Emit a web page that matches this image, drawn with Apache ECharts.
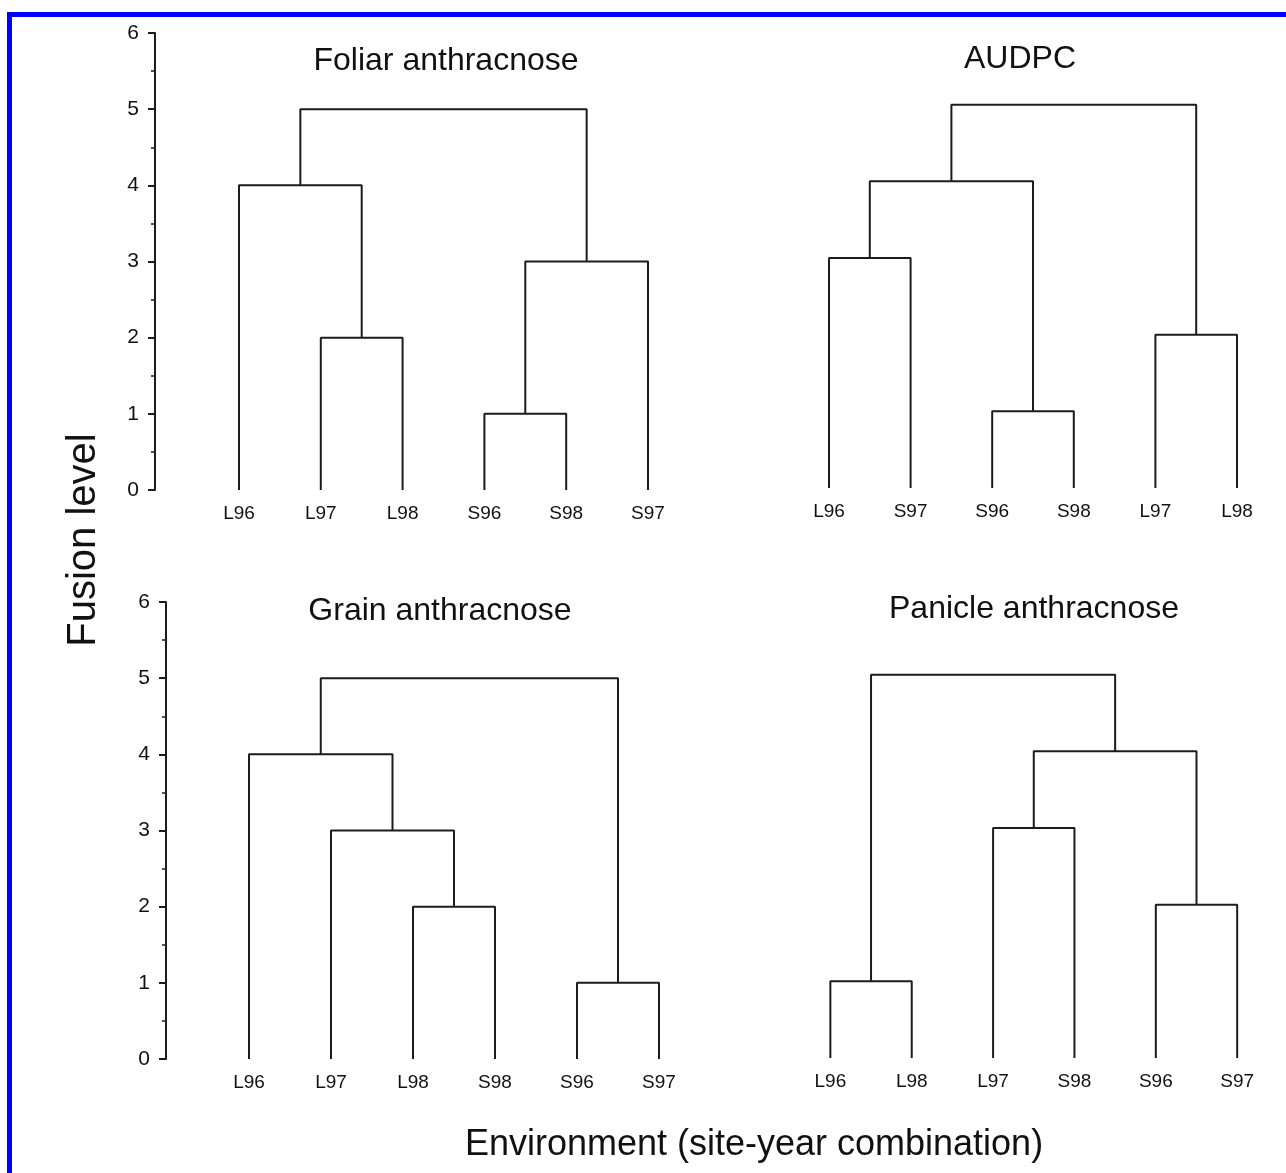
<!DOCTYPE html>
<html>
<head>
<meta charset="utf-8">
<script src="https://cdn.jsdelivr.net/npm/echarts@6/dist/echarts.min.js"></script>
<style>
html,body{margin:0;padding:0;background:#fff;}
#chart{width:1286px;height:1173px;}
</style>
</head>
<body>
<div id="chart"></div>
<script>
// ---------- DATA ----------
const panelTitles = ['Foliar anthracnose', 'AUDPC', 'Grain anthracnose', 'Panicle anthracnose'];

const foliarLeaves = ['L96', 'L97', 'L98', 'S96', 'S98', 'S97'];
const foliarMerges = [['L97', 'L98', 2], ['S96', 'S98', 1], ['L96', '#0', 4], ['#1', 'S97', 3], ['#2', '#3', 5]];

const audpcLeaves = ['L96', 'S97', 'S96', 'S98', 'L97', 'L98'];
const audpcMerges = [['L96', 'S97', 3], ['S96', 'S98', 1], ['#0', '#1', 4], ['L97', 'L98', 2], ['#2', '#3', 5]];

const grainLeaves = ['L96', 'L97', 'L98', 'S98', 'S96', 'S97'];
const grainMerges = [['L98', 'S98', 2], ['L97', '#0', 3], ['L96', '#1', 4], ['S96', 'S97', 1], ['#2', '#3', 5]];

const panicleLeaves = ['L96', 'L98', 'L97', 'S98', 'S96', 'S97'];
const panicleMerges = [['L96', 'L98', 1], ['L97', 'S98', 3], ['S96', 'S97', 2], ['#1', '#2', 4], ['#0', '#3', 5]];

const yTicks = [0, 1, 2, 3, 4, 5, 6];
const yAxisName = 'Fusion level';
const xAxisName = 'Environment (site-year combination)';

// ---------- LAYOUT ----------
const FONT = '"Liberation Sans", Arial, Helvetica, sans-serif';
const INK = '#1c1c1c';
const layout = [
  { left: 155, leaf0: 239, step: 81.8, top: 33, zero: 490, showY: true, tx: 446, ty: 61 },
  { left: 747, leaf0: 829, step: 81.6, top: 28, zero: 488, showY: false, tx: 1020, ty: 59 },
  { left: 166, leaf0: 249, step: 82.0, top: 602, zero: 1059, showY: true, tx: 440, ty: 611 },
  { left: 749, leaf0: 831, step: 82.0, top: 598, zero: 1058, showY: false, tx: 1034, ty: 609 }
];
const panelData = [
  [foliarLeaves, foliarMerges],
  [audpcLeaves, audpcMerges],
  [grainLeaves, grainMerges],
  [panicleLeaves, panicleMerges]
];

const grids = [], xAxes = [], yAxes = [], series = [], graphics = [];

panelData.forEach(([leaves, merges], p) => {
  const L = layout[p];
  const xMin = -(L.leaf0 - L.left) / L.step;
  const xMax = 5.6;
  grids.push({ left: L.left, top: L.top, width: (xMax - xMin) * L.step, height: L.zero - L.top, containLabel: false });
  xAxes.push({
    type: 'value', gridIndex: p, min: xMin, max: xMax,
    axisLine: { show: false, onZero: false }, axisTick: { show: false }, splitLine: { show: false },
    axisLabel: {
      customValues: leaves.map((_, i) => i),
      formatter: v => leaves[Math.round(v)] || '',
      fontFamily: FONT, fontSize: 19, color: '#111', margin: 14
    }
  });
  yAxes.push({
    type: 'value', gridIndex: p, min: yTicks[0], max: yTicks[yTicks.length - 1], interval: 1,
    show: L.showY, position: 'left',
    axisLine: { show: true, onZero: false, lineStyle: { color: INK, width: 2 } },
    axisTick: { show: true, length: 7, lineStyle: { color: INK, width: 2 } },
    minorTick: { show: true, splitNumber: 2, length: 4, lineStyle: { color: INK, width: 1.5 } },
    splitLine: { show: false },
    axisLabel: { fontFamily: FONT, fontSize: 21, color: '#111', margin: 16 }
  });

  // node positions computed from the tree
  const pos = {};
  leaves.forEach((n, i) => { pos[n] = [i, 0]; });
  merges.forEach(([a, b, h], k) => {
    const pa = pos[a], pb = pos[b];
    series.push({
      type: 'line', xAxisIndex: p, yAxisIndex: p,
      data: [[pa[0], pa[1]], [pa[0], h], [pb[0], h], [pb[0], pb[1]]],
      symbol: 'none', silent: true, animation: false,
      lineStyle: { color: INK, width: 2 }
    });
    pos['#' + k] = [(pa[0] + pb[0]) / 2, h];
  });

  graphics.push({
    type: 'text', x: L.tx, y: L.ty, silent: true,
    style: { text: panelTitles[p], font: '32px ' + FONT, fill: '#111', align: 'center', verticalAlign: 'middle' }
  });
});

graphics.push({
  type: 'text', x: 84, y: 540, rotation: Math.PI / 2, silent: true,
  style: { text: yAxisName, font: '40px ' + FONT, fill: '#111', align: 'center', verticalAlign: 'middle' }
});
graphics.push({
  type: 'text', x: 754, y: 1145, silent: true,
  style: { text: xAxisName, font: '36px ' + FONT, fill: '#111', align: 'center', verticalAlign: 'middle' }
});
graphics.push({
  type: 'rect', silent: true,
  shape: { x: 9.5, y: 14.5, width: 1400, height: 1300 },
  style: { fill: 'none', stroke: '#0000ff', lineWidth: 5 }
});

const chart = echarts.init(document.getElementById('chart'), null, { renderer: 'canvas' });
chart.setOption({
  backgroundColor: '#ffffff',
  animation: false,
  grid: grids, xAxis: xAxes, yAxis: yAxes, series: series,
  graphic: graphics
});
</script>
</body>
</html>
